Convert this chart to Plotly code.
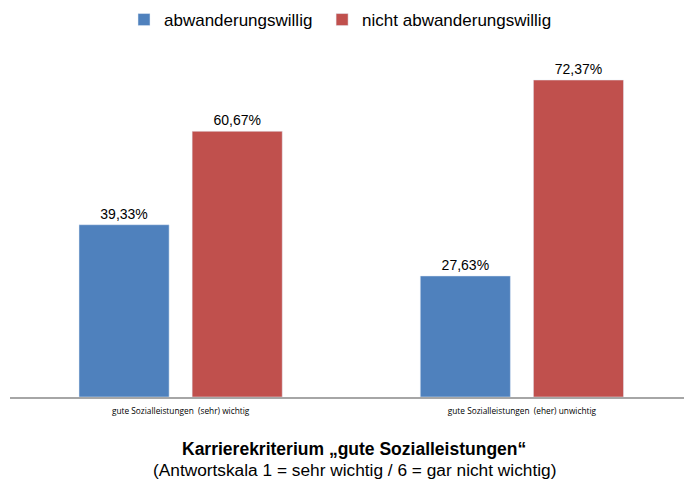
import plotly.graph_objects as go

categories = ["gute Sozialleistungen\u00a0 (sehr) wichtig", "gute Sozialleistungen\u00a0 (eher) unwichtig"]
series_names = ["abwanderungswillig\u00a0", "nicht abwanderungswillig"]
abw = [39.33, 27.63]
nicht_abw = [60.67, 72.37]
colors = ["#4F81BD", "#C0504D"]

def fmt(v):
    return f"{v:.2f}".replace(".", ",") + "%"

fig = go.Figure()
for name, vals, col in zip(series_names, [abw, nicht_abw], colors):
    fig.add_trace(go.Bar(
        x=categories, y=vals, name=name, marker_color=col,
        text=[fmt(v) for v in vals], textposition="outside",
        textfont=dict(family="Liberation Sans, Arial", size=14, color="#000000"),
        cliponaxis=False,
    ))

H_PLOT = 397  # plot area height in px (top margin 0)

fig.update_layout(
    width=684, height=479,
    margin=dict(l=10, r=0, t=0, b=479 - H_PLOT),
    paper_bgcolor="white", plot_bgcolor="white",
    barmode="group", bargap=0.337, bargroupgap=0.2035,
    showlegend=True,
    legend=dict(orientation="h", x=(124 - 10) / 674, xanchor="left",
                y=1 - 2 / H_PLOT, yanchor="top",
                font=dict(family="Liberation Sans, Arial", size=17, color="#000000"),
                itemwidth=30, traceorder="normal",
                bgcolor="rgba(0,0,0,0)"),
    xaxis=dict(range=[-0.5, 1.475], showline=True, linecolor="#A6A6A6", linewidth=1.5,
               ticks="", showgrid=False, zeroline=False, ticklabelstandoff=5,
               tickfont=dict(family="Open Sans, Liberation Sans", size=8.3, color="#000000")),
    yaxis=dict(range=[0, H_PLOT / 4.38], visible=False, showgrid=False),
    font=dict(family="Liberation Sans, Arial"),
)

cx = (354 - 10) / 674
fig.add_annotation(xref="paper", yref="paper", x=cx, y=-(449 - H_PLOT) / H_PLOT, yanchor="middle",
                   text="<b>Karrierekriterium \u201egute Sozialleistungen\u201c</b>", showarrow=False,
                   font=dict(family="Liberation Sans, Arial", size=17.5, color="#000000"))
fig.add_annotation(xref="paper", yref="paper", x=cx, y=-(470 - H_PLOT) / H_PLOT, yanchor="middle",
                   text="(Antwortskala 1 = sehr wichtig / 6 = gar nicht wichtig)", showarrow=False,
                   font=dict(family="Liberation Sans, Arial", size=17.3, color="#000000"))

fig.write_html("out.html", config={"displayModeBar": False},
               post_script="document.body.style.margin='0';")
